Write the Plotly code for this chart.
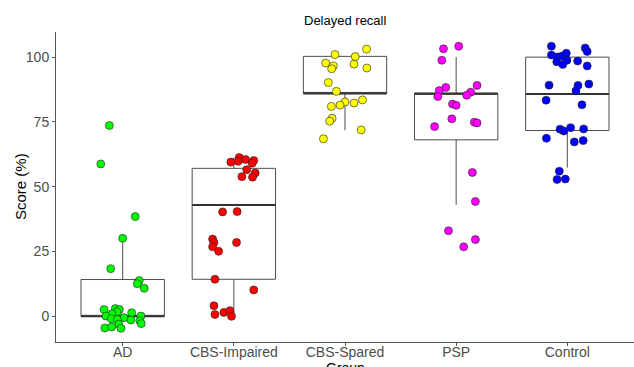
import plotly.graph_objects as go

groups = ["AD", "CBS-Impaired", "CBS-Spared", "PSP", "Control"]
colors = ["#00FF00", "#FF0000", "#FFFF00", "#FF00FF", "#0000FF"]

# box statistics
q1 = [0.0, 14.3, 86.0, 68.1, 71.7]
median = [0.0, 43.0, 86.0, 86.0, 85.8]
q3 = [14.2, 57.1, 100.3, 86.0, 100.0]
lower = [0.0, 0.0, 71.8, 43.0, 57.4]
upper = [30.1, 61.3, 100.0, 100.0, 100.0]

# jittered points: values and horizontal jitter offsets
ad_y = [73.6, 58.8, 38.5, 30.1, 18.4, 13.8, 12.6, 10.8, 2.6, 3.0, 2.6, 1.7, 1.0, 1.4,
        0.1, 0.1, -0.5, -0.9, -1.2, -1.4, -1.7, -2.8, -3.0, -4.5, -4.1, -4.6]
ad_dx = [-0.12, -0.197, 0.113, 0.0, -0.108, 0.149, 0.131, 0.194, -0.168, -0.066, -0.03,
         -0.051, -0.096, 0.081, -0.15, 0.164, 0.012, -0.102, -0.048, 0.074, 0.155, 0.167,
         -0.036, -0.161, -0.099, -0.015]
cbsi_y = [61.3, 60.5, 60.1, 59.8, 59.5, 59.1, 56.6, 55.3, 53.9, 53.7, 40.3, 40.4, 29.8,
          28.5, 26.8, 25.1, 28.5, 14.3, 10.2, 4.1, 0.7, 1.5, 2.2, 0.0]
cbsi_dx = [0.048, 0.105, 0.179, 0.039, -0.027, 0.165, 0.116, 0.192, 0.072, 0.168, -0.101,
           0.03, -0.191, -0.179, -0.191, -0.137, 0.024, -0.17, 0.179, -0.179, -0.17, -0.09,
           -0.036, -0.021]
cbss_y = [103.1, 101.0, 100.2, 97.7, 96.6, 95.5, 97.3, 95.8, 90.2, 86.8, 82.7, 82.3, 83.5,
          81.5, 81.0, 76.4, 75.3, 71.9, 68.5]
cbss_dx = [0.194, -0.09, 0.092, -0.174, -0.105, -0.12, 0.081, 0.197, -0.15, -0.078, 0.0,
           0.081, 0.158, -0.045, -0.123, -0.116, -0.138, 0.146, -0.194]
psp_y = [104.2, 103.2, 98.8, 89.1, 88.3, 87.1, 86.5, 85.3, 84.8, 81.9, 81.4, 76.2, 73.2,
         74.9, 74.6, 55.5, 44.3, 33.0, 29.6, 26.8]
psp_dx = [0.023, -0.114, -0.129, 0.188, -0.093, -0.152, 0.131, 0.095, -0.165, -0.033, 0.0,
          -0.039, -0.194, 0.164, 0.188, 0.146, 0.173, -0.069, 0.173, 0.068]
ctrl_y = [104.2, 103.5, 102.2, 100.8, 100.1, 100.4, 101.5, 98.2, 98.8, 97.2, 98.5, 96.6,
          89.2, 89.1, 89.6, 87.0, 83.4, 81.6, 72.2, 71.5, 72.8, 72.3, 68.7, 67.3, 67.8,
          56.0, 52.8, 53.0]
ctrl_dx = [-0.143, 0.161, 0.179, -0.143, -0.09, -0.047, -0.009, -0.095, -0.003, -0.041,
           0.093, 0.179, -0.164, 0.096, 0.194, 0.078, -0.191, 0.132, -0.065, -0.032, 0.03,
           0.147, -0.188, 0.063, 0.143, -0.072, -0.092, -0.018]

points_y = [ad_y, cbsi_y, cbss_y, psp_y, ctrl_y]
points_dx = [ad_dx, cbsi_dx, cbss_dx, psp_dx, ctrl_dx]

positions = list(range(1, len(groups) + 1))
box_width = 0.75
line_col = "#4d4d4d"

fig = go.Figure()
fig.add_trace(go.Box(
    x=positions, q1=q1, median=median, q3=q3, lowerfence=lower, upperfence=upper,
    width=box_width, fillcolor="white", line=dict(color=line_col, width=1),
    whiskerwidth=0, boxpoints=False, showlegend=False, hoverinfo="skip",
))
# thicker median lines
for p, m in zip(positions, median):
    fig.add_trace(go.Scatter(
        x=[p - box_width / 2, p + box_width / 2], y=[m, m], mode="lines",
        line=dict(color="#333333", width=2), showlegend=False, hoverinfo="skip",
    ))
for p, ys, dxs, c in zip(positions, points_y, points_dx, colors):
    fig.add_trace(go.Scatter(
        x=[p + d for d in dxs], y=ys, mode="markers",
        marker=dict(size=8, color=c, line=dict(color="#222222", width=0.6)),
        showlegend=False,
    ))

fig.update_layout(
    width=634, height=367,
    margin=dict(l=56, r=0, t=32, b=25),
    paper_bgcolor="white", plot_bgcolor="white",
    font=dict(family="Liberation Sans, Arial, sans-serif", size=14, color="#4d4d4d"),
    xaxis=dict(
        range=[0.4, 5.6], tickmode="array", tickvals=positions, ticktext=groups,
        showline=True, linecolor="#555555", linewidth=1, ticks="outside", ticklen=3,
        tickcolor="#555555", showgrid=False, zeroline=False, ticklabelstandoff=-6,
        tickfont=dict(size=14, color="#4d4d4d"), automargin=False,
    ),
    yaxis=dict(
        range=[-9.9, 109.7], tickvals=[0, 25, 50, 75, 100],
        showline=True, linecolor="#555555", linewidth=1, ticks="outside", ticklen=3,
        tickcolor="#555555", showgrid=False, zeroline=False,
        tickfont=dict(size=14, color="#4d4d4d"), automargin=False,
    ),
    annotations=[
        dict(text="Delayed recall", x=0.5, y=1, xref="paper", yref="paper",
             xanchor="center", yanchor="bottom", yshift=2, showarrow=False,
             font=dict(size=13, color="black")),
        dict(text="Group", x=0.5, y=0, xref="paper", yref="paper",
             xanchor="center", yanchor="top", yshift=-16, showarrow=False,
             font=dict(size=14, color="black")),
        dict(text="Score (%)", x=0, y=0.5, xref="paper", yref="paper",
             xanchor="center", yanchor="middle", xshift=-36, textangle=-90,
             showarrow=False, font=dict(size=15, color="black")),
    ],
)

fig.write_html("out.html")
